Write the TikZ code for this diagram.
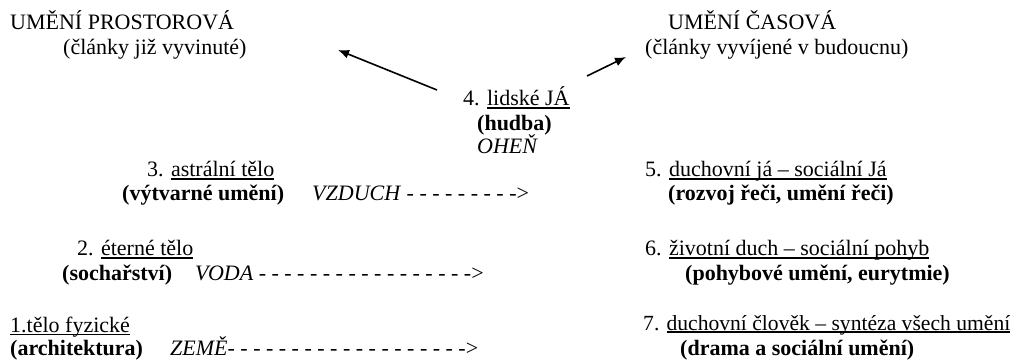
\documentclass[tikz,border=0pt]{standalone}
\usepackage{fontspec}
\setmainfont{Liberation Serif}
\usepackage{tikz}
\usetikzlibrary{arrows.meta}
\newcommand{\podtrh}[1]{\setbox0\hbox{#1}\rlap{\rule[-2.6pt]{\wd0}{1.1pt}}\box0}
\tikzset{txt/.style={anchor=base west,inner sep=0pt,font=\fontsize{22}{26}\selectfont},
         sip/.style={-{Latex[length=11pt,width=9pt]},line width=1.6pt}}

\begin{document}
\begin{tikzpicture}[x=1pt,y=-1pt]
\useasboundingbox (0,0) rectangle (1017,363);
\path (10,30) node[txt] (prost) {UMĚNÍ PROSTOROVÁ}
      (63,55) node[txt] (prostp) {(články již vyvinuté)}
      (668,30) node[txt] (cas) {UMĚNÍ ČASOVÁ}
      (645,55) node[txt] (casp) {(články vyvíjené v budoucnu)};
\path (463,106) node[txt] (ja) {4. \podtrh{lidské JÁ}}
      (477,131) node[txt] (hudba) {\textbf{(hudba)}}
      (477,154) node[txt] (ohen) {\textit{OHEŇ}};
\path (147,177) node[txt] (astral) {3. \podtrh{astrální tělo}}
      (122,201) node[txt] (vytv) {\textbf{(výtvarné umění)}}
      (312,201) node[txt] (vzduch) {\textit{VZDUCH} - - - - - - - - ->}
      (77,256) node[txt] (eter) {2. \podtrh{éterné tělo}}
      (62,281) node[txt] (soch) {\textbf{(sochařství)}}
      (195,281) node[txt] (voda) {\textit{VODA} - - - - - - - - - - - - - - - - ->}
      (10,332) node[txt] (fyz) {\podtrh{1.tělo fyzické}}
      (10,355) node[txt] (arch) {\textbf{(architektura)}}
      (170,355) node[txt] (zeme) {\textit{ZEMĚ}- - - - - - - - - - - - - - - - - - ->};
\path (645,177) node[txt] (duchja) {5. \podtrh{duchovní já – sociální Já}}
      (668,201) node[txt] (rec) {\textbf{(rozvoj řeči, umění řeči)}}
      (645,256) node[txt] (zivot) {6. \podtrh{životní duch – sociální pohyb}}
      (685,281) node[txt] (pohyb) {\textbf{(pohybové umění, eurytmie)}}
      (643,330) node[txt,font=\fontsize{21.6}{26}\selectfont] (clovek) {7. \podtrh{duchovní člověk – syntéza všech umění}}
      (680,355) node[txt] (drama) {\textbf{(drama a sociální umění)}};
% sipky od lidskeho JA
\coordinate (lz) at (437,90);
\coordinate (lk) at (338,50);
\coordinate (pz) at (587,76);
\coordinate (pk) at (626,57);
\draw[sip] (lz)--(lk);
\draw[sip] (pz)--(pk);
\end{tikzpicture}
\end{document}
